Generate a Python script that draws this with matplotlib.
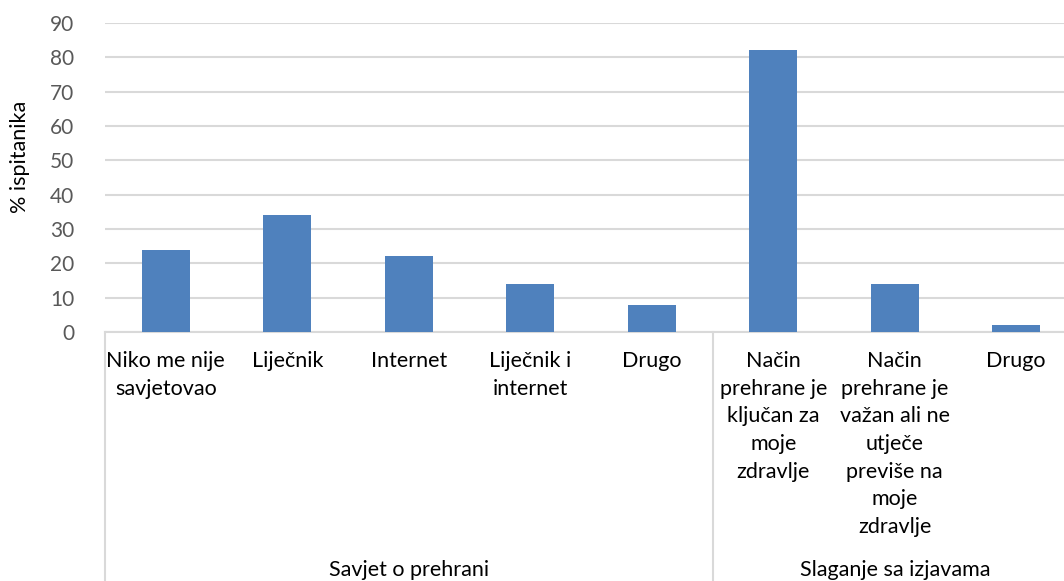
import matplotlib.pyplot as plt
import matplotlib.transforms as mtransforms

plt.rcParams['font.family'] = ['Lato', 'DejaVu Sans']

# Data
categories = [
    "Niko me nije\nsavjetovao",
    "Liječnik",
    "Internet",
    "Liječnik i\ninternet",
    "Drugo",
    "Način\nprehrane je\nključan za\nmoje\nzdravlje",
    "Način\nprehrane je\nvažan ali ne\nutječe\npreviše na\nmoje\nzdravlje",
    "Drugo",
]
values = [24, 34, 22, 14, 8, 82, 14, 2]
groups = ["Savjet o prehrani", "Slaganje sa izjavama"]
group_sizes = [5, 3]
y_ticks = [0, 10, 20, 30, 40, 50, 60, 70, 80, 90]

bar_color = '#4f81bd'
grid_color = '#d9d9d9'

fig = plt.figure(figsize=(10.64, 5.81), dpi=100)
ax = fig.add_axes([105 / 1064, 249 / 581, 972 / 1064, 309 / 581])

x = list(range(len(values)))
ax.bar(x, values, width=0.395, color=bar_color, zorder=3)

ax.set_xlim(-0.5, len(values) - 0.5)
ax.set_ylim(0, 90)
ax.set_yticks(y_ticks)
ax.yaxis.grid(True, color=grid_color, linewidth=1.5, zorder=0)
ax.tick_params(axis='y', length=0, pad=22, labelsize=15, labelcolor='#595959')

ax.set_xticks(x)
ax.set_xticklabels(categories, fontsize=15.5, color='#000000', linespacing=1.47, va='top')
ax.tick_params(axis='x', length=0, pad=14)

for side in ['top', 'right', 'left']:
    ax.spines[side].set_visible(False)
ax.spines['bottom'].set_color(grid_color)
ax.spines['bottom'].set_linewidth(1.5)

ax.set_ylabel('% ispitanika', fontsize=15.5, color='#000000')
ax.yaxis.set_label_coords(-0.077, 0.566)

# group separators and group labels
trans = mtransforms.blended_transform_factory(ax.transData, ax.transAxes)
bottom = -(581 - 332) / 309
start = -0.5
for name, size in zip(groups, group_sizes):
    end = start + size
    ax.plot([start, start], [0, bottom], color=grid_color, lw=1.5,
            transform=trans, clip_on=False)
    ax.text((start + end) / 2, -(570 - 332) / 309, name, transform=trans,
            ha='center', va='center', fontsize=15.5, color='#000000')
    start = end
ax.plot([start, start], [0, bottom], color=grid_color, lw=1.5,
        transform=trans, clip_on=False)

fig.savefig('out.png', dpi=100)
